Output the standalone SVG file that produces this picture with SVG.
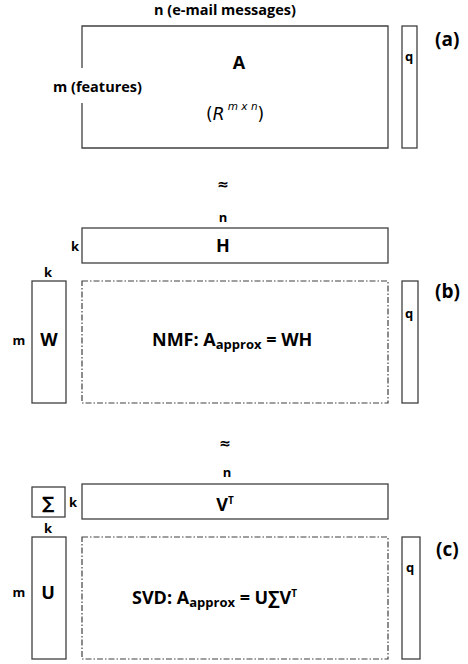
<svg xmlns="http://www.w3.org/2000/svg" width="468" height="664" viewBox="0 0 468 664">
<style>
.box{fill:none;stroke:#404040;stroke-width:1.3}
.dash{fill:none;stroke:#404040;stroke-width:1.2;stroke-dasharray:6 2 1.5 2}
text{font-family:"Open Sans","Liberation Sans",sans-serif;font-weight:bold;fill:#000}
.s{font-size:13px}
.m{font-size:14.5px}
.l{font-size:18px}
.b{font-size:19px}
.c{text-anchor:middle}
.ap{font-family:"DejaVu Sans",sans-serif;font-size:14px}
</style>
<rect width="468" height="664" fill="#fff"/>
<g id="matrixA">
<path class="box" d="M82,68 V26 H388 V148 H82 V103"/>
<text class="m c" x="225" y="15">n (e-mail messages)</text>
<text class="m" x="53" y="92">m (features)</text>
<text class="l c" x="239" y="69">A</text>
<text x="206" y="120" style="font-family:'DejaVu Sans','Liberation Sans',sans-serif;font-weight:normal;font-size:17px">(<tspan font-style="italic">R</tspan><tspan font-style="italic" font-size="10.5" dy="-10"> m x n</tspan><tspan dy="10">)</tspan></text>
</g>
<g id="qA">
<rect class="box" x="402" y="26" width="15" height="122"/>
<text class="s c" x="409" y="61">q</text>
<text class="b" x="435" y="46">(a)</text>
</g>
<text class="ap c" x="223" y="189">≈</text>
<g id="matrixH">
<rect class="box" x="82" y="228" width="306" height="35"/>
<text class="s c" x="223" y="222">n</text>
<text class="s c" x="75" y="251">k</text>
<text class="l c" x="223" y="252">H</text>
</g>
<g id="matrixW">
<rect class="box" x="32" y="281" width="34" height="122"/>
<text class="s c" x="48" y="277">k</text>
<text class="s c" x="19" y="345">m</text>
<text class="l c" x="49" y="346">W</text>
</g>
<g id="nmf">
<rect class="dash" x="82" y="281" width="306" height="122"/>
<text class="l" x="152" y="346">NMF: A<tspan font-size="13" dy="3">approx</tspan><tspan dy="-3"> = WH</tspan></text>
</g>
<g id="qB">
<rect class="box" x="402" y="281" width="16" height="122"/>
<text class="s c" x="409" y="318">q</text>
<text class="b" x="435" y="298">(b)</text>
</g>
<text class="ap c" x="225" y="448">≈</text>
<g id="matrixVT">
<rect class="box" x="82" y="484" width="306" height="35"/>
<text class="s c" x="227" y="477">n</text>
<text class="l c" x="225" y="511">V<tspan font-size="10" dy="-7">T</tspan></text>
</g>
<g id="sigma">
<rect class="box" x="32" y="487" width="33" height="30"/>
<text x="48" y="509" text-anchor="middle" style="font-family:'DejaVu Sans',sans-serif;font-weight:bold;font-size:17px">∑</text>
<text class="s c" x="73" y="507">k</text>
<text class="s c" x="48" y="533">k</text>
</g>
<g id="matrixU">
<rect class="box" x="32" y="537" width="34" height="122"/>
<text class="s c" x="19" y="597">m</text>
<text class="l c" x="48" y="599">U</text>
</g>
<g id="svd">
<rect class="dash" x="82" y="537" width="306" height="122"/>
<text class="l" x="132" y="604">SVD: A<tspan font-size="13" dy="3">approx</tspan><tspan dy="-3"> = U∑V</tspan><tspan font-size="10" dy="-7">T</tspan></text>
</g>
<g id="qC">
<rect class="box" x="402" y="537" width="18" height="122"/>
<text class="s c" x="410" y="572">q</text>
<text class="b" x="436" y="556">(c)</text>
</g>
</svg>
